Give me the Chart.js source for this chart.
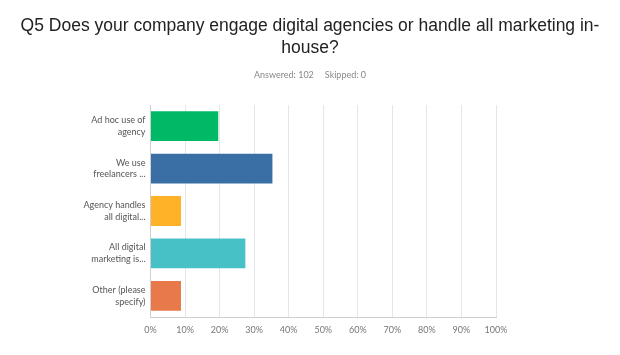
<!DOCTYPE html>
<html>
<head>
<meta charset="utf-8">
<script src="https://cdn.jsdelivr.net/npm/chart.js@4.4.1/dist/chart.umd.min.js"></script>
<style>
  html, body { margin: 0; padding: 0; background: #fff; }
  #wrap { position: relative; width: 620px; height: 355px; overflow: hidden; }
  #title { position: absolute; left: 0; top: 14px; width: 620px; text-align: center;
    font-family: "Liberation Sans", Arial, sans-serif; font-size: 17.5px; line-height: 22px; color: #222; }
  #sub { position: absolute; left: 0; top: 69px; width: 620px; text-align: center;
    font-family: "Lato", "Open Sans", sans-serif; font-size: 9px; color: #888; }
  #sub span { margin: 0 5.5px; }
  canvas { position: absolute; left: 0; top: 0; }
</style>
</head>
<body>
<div id="wrap">
  <canvas id="c" width="620" height="355"></canvas>
  <div id="title">Q5 Does your company engage digital agencies or handle all marketing in-<br>house?</div>
  <div id="sub"><span>Answered: 102</span><span>Skipped: 0</span></div>
</div>
<script>
const categories = [
  ["Ad hoc use of", "agency"],
  ["We use", "freelancers ..."],
  ["Agency handles", "all digital..."],
  ["All digital", "marketing is..."],
  ["Other (please", "specify)"]
];
const values = [19.61, 35.29, 8.82, 27.45, 8.82];
const barColors = ["#00B967", "#3A6FA5", "#FFB127", "#48C1C6", "#E7794A"];
const tickValues = [0, 10, 20, 30, 40, 50, 60, 70, 80, 90, 100];

new Chart(document.getElementById("c"), {
  type: "bar",
  data: {
    labels: categories,
    datasets: [{
      data: values,
      backgroundColor: barColors,
      borderWidth: 0,
      barPercentage: 0.88,
      categoryPercentage: 0.8
    }]
  },
  options: {
    indexAxis: "y",
    responsive: false,
    animation: false,
    layout: { padding: { left: 0, right: 124, top: 105, bottom: 18 } },
    plugins: { legend: { display: false }, tooltip: { enabled: false } },
    scales: {
      x: {
        min: 0, max: 100,
        afterBuildTicks: s => { s.ticks = tickValues.map(v => ({ value: v })); },
        afterFit: s => { s.height = 20; },
        grid: { color: "#e6e6e6", lineWidth: 1, drawTicks: false },
        border: { display: true, color: "#cfcfcf" },
        ticks: {
          padding: 8,
          color: "#777",
          font: { family: "Lato", size: 9 },
          callback: v => v + "%"
        }
      },
      y: {
        afterFit: s => { s.width = 150.5; },
        grid: { display: false, drawTicks: false },
        border: { display: true, color: "#cfcfcf" },
        ticks: {
          padding: 5,
          color: "#555",
          font: { family: "Lato", size: 9, lineHeight: 1.3 }
        }
      }
    }
  }
});
</script>
</body>
</html>
